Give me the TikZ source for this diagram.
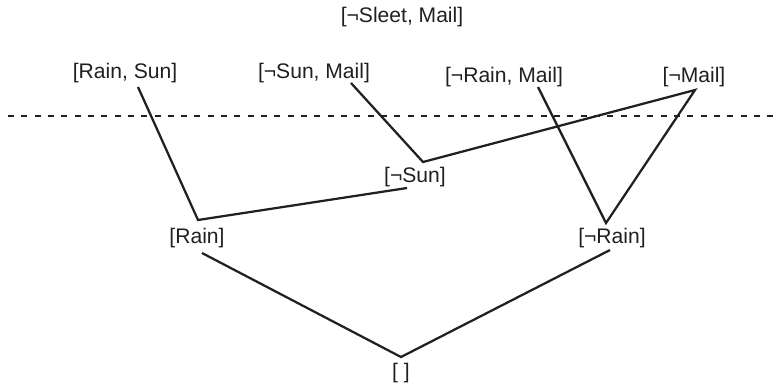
\documentclass[tikz,border=0pt]{standalone}
\usepackage{fontspec}
\setmainfont{Liberation Sans}
\usetikzlibrary{calc}
\definecolor{ink}{RGB}{35,31,32}

\begin{document}
\begin{tikzpicture}[x=0.25mm, y=-0.25mm,
    every node/.style={inner sep=0pt, text=ink, font=\fontsize{15}{18}\selectfont},
    link/.style={draw=ink, line width=1.6pt}]
    % Fix the page to the size of the reference
    \useasboundingbox (0,0) rectangle (782,386);

    % Top labels
    \node (sleet) at (402,17) {[¬Sleet, Mail]};
    \node (rainsun) at (125,73) {[Rain, Sun]};
    \node (sunmail) at (314,73) {[¬Sun, Mail]};
    \node (rainmail) at (504,77) {[¬Rain, Mail]};
    \node (mail) at (694,77) {[¬Mail]};

    % Lower labels
    \node (nsun) at (415,177) {[¬Sun]};
    \node (rain) at (197,238) {[Rain]};
    \node (nrain) at (612,238) {[¬Rain]};
    \node (empty) at (401,373) {[ ]};

    % Ends of the lines, taken next to the labels
    \coordinate (rainsunEnd) at ($(rainsun)+(13,14)$);
    \coordinate (sunmailEnd) at ($(sunmail)+(37,10)$);
    \coordinate (rainmailEnd) at ($(rainmail)+(34,10)$);
    \coordinate (mailEnd) at ($(mail)+(1,13)$);
    \coordinate (nsunTop) at ($(nsun)+(8,-15)$);
    \coordinate (nsunEnd) at ($(nsun)+(-8,11)$);
    \coordinate (rainTop) at ($(rain)+(1,-18)$);
    \coordinate (rainEnd) at ($(rain)+(5,15)$);
    \coordinate (nrainTop) at ($(nrain)+(-6,-15)$);
    \coordinate (nrainEnd) at ($(nrain)+(-2,12)$);
    \coordinate (emptyTop) at ($(empty)+(0,-16)$);

    % Dashed cut
    \coordinate (cutL) at (8,116);
    \coordinate (cutR) at (776,116);
    \draw[ink, line width=1.8pt, dash pattern=on 1.5mm off 1.83mm] (cutL) -- (cutR);

    % Lines
    \draw[link] (rainsunEnd) -- (rainTop) -- (nsunEnd);
    \draw[link] (sunmailEnd) -- (nsunTop) -- (mailEnd) -- (nrainTop) -- (rainmailEnd);
    \draw[link] (rainEnd) -- (emptyTop) -- (nrainEnd);

\end{tikzpicture}
\end{document}
